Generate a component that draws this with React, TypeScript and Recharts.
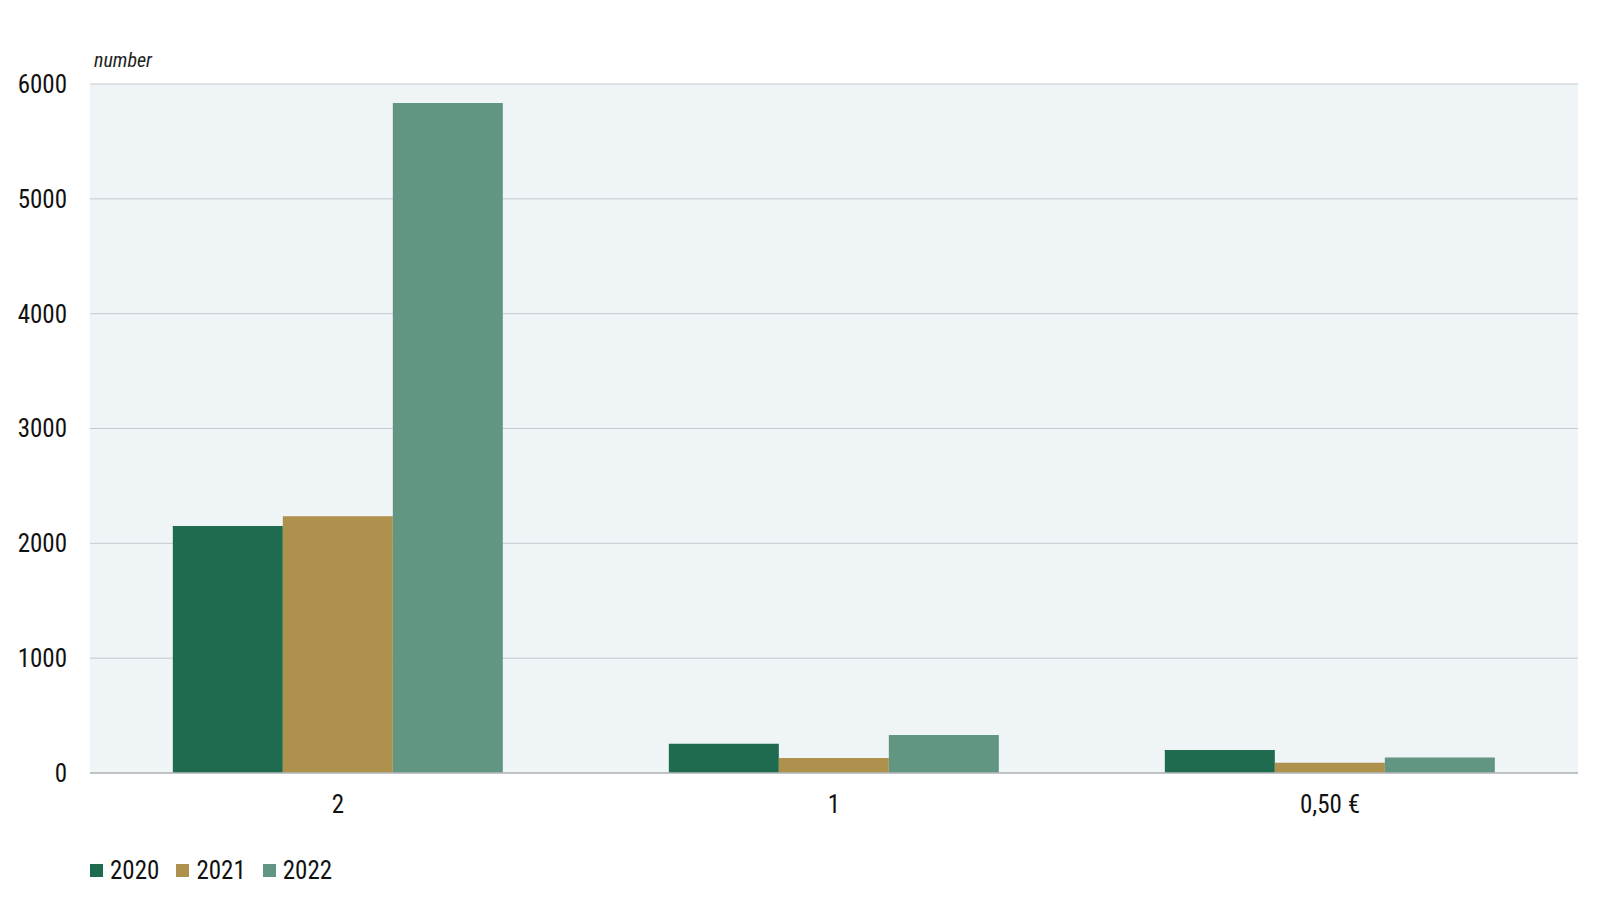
import React from 'react';
import { BarChart, Bar, XAxis, YAxis, CartesianGrid, Legend } from 'recharts';

// Coin denominations (x categories)
const categories = ['2', '1', '0,50 €'];
// Counts per year
const values2020 = [2150, 255, 200];
const values2021 = [2235, 130, 90];
const values2022 = [5835, 330, 135];
const yTicks = [0, 1000, 2000, 3000, 4000, 5000, 6000];

const series = [
  { key: 'y2020', name: '2020', color: '#1e6b50' },
  { key: 'y2021', name: '2021', color: '#ae914d' },
  { key: 'y2022', name: '2022', color: '#619683' },
];

const FONT = '"Liberation Sans Narrow", "Arial Narrow", "Roboto Condensed", "Liberation Sans", sans-serif';

const data = categories.map((c, i) => ({
  name: c,
  y2020: values2020[i],
  y2021: values2021[i],
  y2022: values2022[i],
}));

const LegendContent = () => (
  <div style={{ display: 'flex', alignItems: 'center', fontFamily: FONT, fontSize: 25, color: '#111' }}>
    {series.map((s) => (
      <div key={s.key} style={{ display: 'flex', alignItems: 'center', marginRight: 17 }}>
        <span style={{ width: 13, height: 13, background: s.color, display: 'inline-block', marginRight: 7 }} />
        <span>{s.name}</span>
      </div>
    ))}
  </div>
);

export default function App() {
  return (
    <div style={{ position: 'absolute', left: 0, top: 0, width: 1599, height: 918, background: '#fff', fontFamily: FONT }}>
      <div style={{ position: 'absolute', left: 94, top: 48, fontSize: 20, fontStyle: 'italic', color: '#222' }}>number</div>
      <BarChart
        width={1599}
        height={918}
        data={data}
        margin={{ top: 84, right: 21, left: 0, bottom: 56 }}
        barCategoryGap="16.7%"
        barGap={0}
      >
        <CartesianGrid vertical={false} stroke="#c3c9ce" fill="#eff4f7" />
        <XAxis
          dataKey="name"
          height={60}
          tickLine={false}
          axisLine={{ stroke: '#b5b9bd', strokeWidth: 1.5 }}
          tickSize={0}
          tickMargin={22}
          tick={{ fontSize: 25, fill: '#111', fontFamily: FONT }}
        />
        <YAxis
          width={90}
          domain={[0, 6000]}
          ticks={yTicks}
          interval={0}
          tickLine={false}
          axisLine={false}
          tickSize={0}
          tickMargin={23}
          tick={{ fontSize: 25, fill: '#111', fontFamily: FONT }}
        />
        <Legend
          verticalAlign="bottom"
          align="left"
          content={<LegendContent />}
          wrapperStyle={{ position: 'absolute', left: 90, top: 856, width: 'auto', bottom: 'auto' }}
        />
        {series.map((s) => (
          <Bar key={s.key} dataKey={s.key} name={s.name} fill={s.color} isAnimationActive={false} />
        ))}
      </BarChart>
    </div>
  );
}
